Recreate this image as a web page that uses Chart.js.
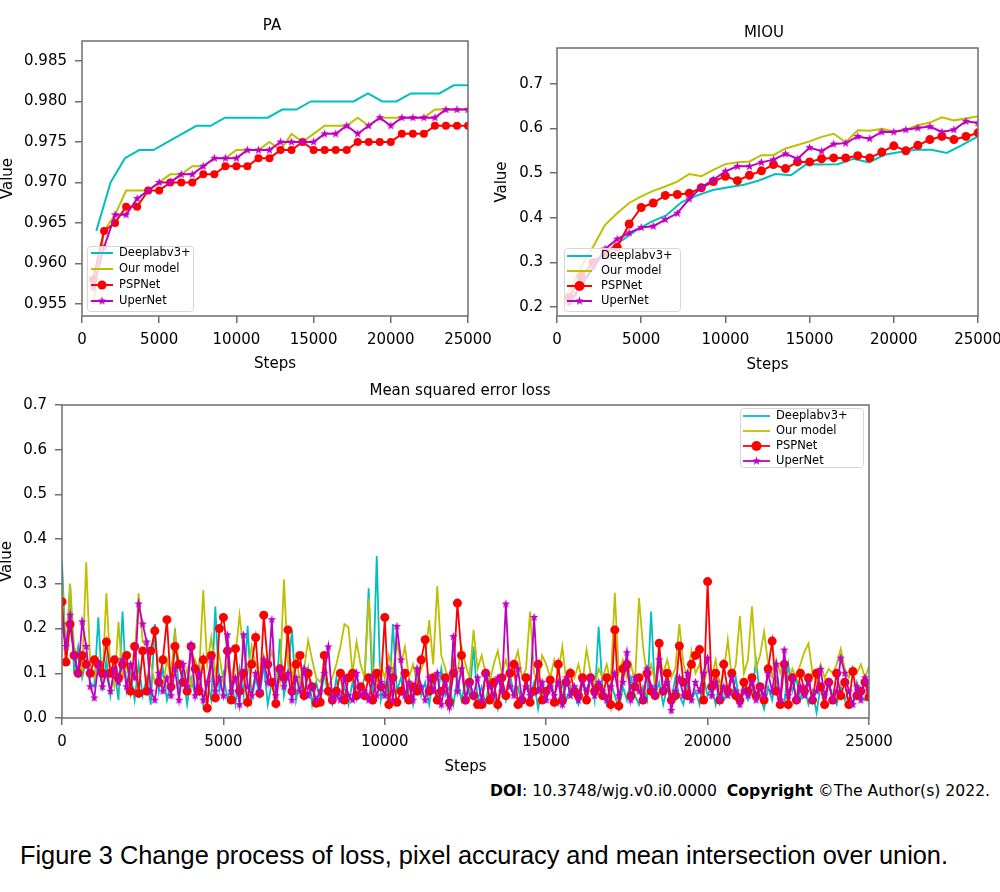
<!DOCTYPE html>
<html>
<head>
<meta charset="utf-8">
<title>Figure 3</title>
<script src="https://cdn.jsdelivr.net/npm/chart.js@4.4.0/dist/chart.umd.min.js"></script>
<style>
  body { margin: 0; width: 1000px; height: 892px; position: relative; overflow: hidden; background: #fff;
         font-family: "DejaVu Sans", sans-serif; color: #000; }
  canvas { position: absolute; }
  .ttl { position: absolute; white-space: nowrap; font-size: 15px; transform: translate(-50%, -50%); }
  #doi { position: absolute; left: 490px; top: 782px; white-space: nowrap; font: 15px "DejaVu Sans Condensed", sans-serif; transform-origin: left center; }
  #caption { position: absolute; left: 20px; top: 840px; white-space: nowrap; font: 26px "Liberation Sans", Arial, sans-serif; transform-origin: left center; }
</style>
</head>
<body>
<canvas id="paChart"   width="500"  height="380" style="left:0;top:0"></canvas>
<canvas id="miouChart" width="520"  height="380" style="left:490px;top:0"></canvas>
<canvas id="mseChart"  width="1000" height="400" style="left:0;top:380px"></canvas>

<div class="ttl" style="left:272px;top:25px">PA</div>
<div class="ttl" style="left:764px;top:32px">MIOU</div>
<div class="ttl" style="left:460px;top:390px">Mean squared error loss</div>
<div id="doi"><b>DOI</b>: 10.3748/wjg.v0.i0.0000&nbsp;&nbsp;<b>Copyright</b> ©The Author(s) 2022.</div>
<div id="caption">Figure 3 Change process of loss, pixel accuracy and mean intersection over union.</div>

<script>
'use strict';

// ── Data ─────────────────────────────────────────────────────
const SERIES_NAMES = ['Deeplabv3+', 'Our model', 'PSPNet', 'UperNet'];
const STEP_TICKS   = [0, 5000, 10000, 15000, 20000, 25000];

// evaluation steps (PSPNet / UperNet / Our model every ~714, Deeplabv3+ every ~926)
const EVAL_STEPS = [714, 1429, 2143, 2857, 3571, 4286, 5000, 5714, 6429, 7143, 7857, 8571,
  9286, 10000, 10714, 11429, 12143, 12857, 13571, 14286, 15000, 15714, 16429, 17143, 17857,
  18571, 19286, 20000, 20714, 21429, 22143, 22857, 23571, 24286, 25000];
const DEEPLAB_STEPS = [926, 1852, 2778, 3704, 4630, 5556, 6481, 7407, 8333, 9259, 10185,
  11111, 12037, 12963, 13889, 14815, 15741, 16667, 17593, 18519, 19444, 20370, 21296, 22222,
  23148, 24074, 25000];

// PA
const PA_YTICKS  = [0.955, 0.960, 0.965, 0.970, 0.975, 0.980, 0.985];
const PA_DEEPLAB = [0.964, 0.970, 0.973, 0.974, 0.974, 0.975, 0.976, 0.977, 0.977, 0.978,
  0.978, 0.978, 0.978, 0.979, 0.979, 0.980, 0.980, 0.980, 0.980, 0.981, 0.980, 0.980, 0.981,
  0.981, 0.981, 0.982, 0.982];
const PA_OURS = [0.955, 0.964, 0.966, 0.969, 0.969, 0.969, 0.970, 0.971, 0.971, 0.972, 0.972,
  0.973, 0.973, 0.974, 0.974, 0.974, 0.975, 0.974, 0.976, 0.975, 0.976, 0.977, 0.977, 0.977,
  0.978, 0.977, 0.978, 0.978, 0.978, 0.978, 0.978, 0.979, 0.979, 0.979, 0.979];
const PA_PSP = [0.958, 0.964, 0.965, 0.967, 0.967, 0.969, 0.969, 0.970, 0.970, 0.970, 0.971,
  0.971, 0.972, 0.972, 0.972, 0.973, 0.973, 0.974, 0.974, 0.975, 0.974, 0.974, 0.974, 0.974,
  0.975, 0.975, 0.975, 0.975, 0.976, 0.976, 0.976, 0.977, 0.977, 0.977, 0.977];
const PA_UPER = [0.957, 0.962, 0.966, 0.966, 0.968, 0.969, 0.970, 0.970, 0.971, 0.971, 0.972,
  0.973, 0.973, 0.973, 0.974, 0.974, 0.974, 0.975, 0.975, 0.975, 0.975, 0.976, 0.976, 0.977,
  0.976, 0.977, 0.978, 0.977, 0.978, 0.978, 0.978, 0.978, 0.979, 0.979, 0.979];

// MIOU
const MIOU_YTICKS  = [0.2, 0.3, 0.4, 0.5, 0.6, 0.7];
const MIOU_DEEPLAB = [0.215, 0.27, 0.32, 0.345, 0.37, 0.39, 0.405, 0.435, 0.45, 0.462, 0.468,
  0.474, 0.484, 0.498, 0.495, 0.52, 0.519, 0.52, 0.532, 0.524, 0.541, 0.547, 0.552, 0.552,
  0.545, 0.563, 0.582];
const MIOU_OURS = [0.235, 0.29, 0.335, 0.384, 0.41, 0.433, 0.448, 0.46, 0.47, 0.481, 0.498,
  0.493, 0.507, 0.52, 0.524, 0.526, 0.54, 0.54, 0.555, 0.563, 0.571, 0.581, 0.588, 0.569,
  0.596, 0.595, 0.599, 0.593, 0.597, 0.607, 0.613, 0.625, 0.618, 0.622, 0.627];
const MIOU_PSP = [0.222, 0.269, 0.30, 0.322, 0.334, 0.386, 0.423, 0.433, 0.45, 0.452, 0.455,
  0.467, 0.481, 0.493, 0.483, 0.495, 0.505, 0.519, 0.51, 0.525, 0.525, 0.532, 0.534, 0.534,
  0.539, 0.534, 0.547, 0.561, 0.55, 0.562, 0.575, 0.582, 0.575, 0.582, 0.59];
const MIOU_UPER = [0.209, 0.25, 0.29, 0.33, 0.352, 0.366, 0.378, 0.381, 0.396, 0.41, 0.442,
  0.468, 0.485, 0.504, 0.515, 0.515, 0.524, 0.53, 0.543, 0.532, 0.557, 0.549, 0.565, 0.567,
  0.582, 0.577, 0.592, 0.592, 0.597, 0.601, 0.604, 0.592, 0.597, 0.616, 0.612];

// MSE loss, logged every 125 steps (one row = 1000 steps)
const MSE_INTERVAL = 125;
const MSE_YTICKS   = [0, 0.1, 0.2, 0.3, 0.4, 0.5, 0.6, 0.7];
const MSE_DEEPLAB = [
  0.35, 0.13, 0.30, 0.10, 0.16, 0.09, 0.13, 0.08,
  0.07, 0.225, 0.06, 0.13, 0.05, 0.11, 0.04, 0.238,
  0.06, 0.10, 0.04, 0.12, 0.05, 0.09, 0.03, 0.21,
  0.06, 0.11, 0.04, 0.08, 0.20, 0.05, 0.10, 0.03,
  0.09, 0.05, 0.12, 0.03, 0.08, 0.04, 0.249, 0.06,
  0.10, 0.04, 0.08, 0.03, 0.11, 0.05, 0.206, 0.04,
  0.09, 0.05, 0.12, 0.03, 0.08, 0.04, 0.177, 0.05,
  0.10, 0.197, 0.04, 0.09, 0.05, 0.11, 0.03, 0.08,
  0.04, 0.10, 0.05, 0.03, 0.09, 0.04, 0.07, 0.03,
  0.08, 0.04, 0.06, 0.09, 0.29, 0.05, 0.362, 0.04,
  0.08, 0.03, 0.21, 0.06, 0.09, 0.04, 0.07, 0.03,
  0.10, 0.05, 0.08, 0.03, 0.09, 0.04, 0.11, 0.05,
  0.07, 0.03, 0.09, 0.04, 0.08, 0.05, 0.16, 0.04,
  0.07, 0.03, 0.09, 0.05, 0.02, 0.08, 0.04, 0.10,
  0.05, 0.07, 0.03, 0.09, 0.05, 0.08, 0.02, 0.07,
  0.04, 0.09, 0.05, 0.03, 0.08, 0.04, 0.07, 0.05,
  0.03, 0.08, 0.05, 0.10, 0.04, 0.204, 0.06, 0.03,
  0.08, 0.05, 0.02, 0.07, 0.04, 0.09, 0.05, 0.03,
  0.07, 0.04, 0.238, 0.05, 0.08, 0.03, 0.07, 0.04,
  0.09, 0.05, 0.03, 0.08, 0.04, 0.06, 0.03, 0.09,
  0.05, 0.07, 0.03, 0.08, 0.04, 0.06, 0.05, 0.09,
  0.03, 0.07, 0.04, 0.06, 0.128, 0.05, 0.02, 0.07,
  0.04, 0.09, 0.05, 0.03, 0.12, 0.06, 0.09, 0.04,
  0.07, 0.03, 0.06, 0.012, 0.07, 0.04, 0.08, 0.05,
  0.03, 0.07, 0.04, 0.06, 0.03, 0.08, 0.05, 0.04,
  0.07];
const MSE_OURS = [
  0.31, 0.12, 0.30, 0.16, 0.13, 0.10, 0.348, 0.12,
  0.09, 0.13, 0.08, 0.279, 0.11, 0.07, 0.215, 0.09,
  0.12, 0.08, 0.14, 0.279, 0.17, 0.16, 0.12, 0.08,
  0.10, 0.07, 0.13, 0.09, 0.19, 0.12, 0.08, 0.11,
  0.07, 0.13, 0.10, 0.286, 0.12, 0.18, 0.10, 0.14,
  0.08, 0.12, 0.09, 0.14, 0.23, 0.15, 0.10, 0.16,
  0.12, 0.09, 0.14, 0.11, 0.15, 0.10, 0.08, 0.31,
  0.12, 0.09, 0.14, 0.08, 0.11, 0.174, 0.13, 0.09,
  0.08, 0.11, 0.07, 0.09, 0.12, 0.16, 0.21, 0.203,
  0.10, 0.17, 0.12, 0.09, 0.267, 0.11, 0.08, 0.12,
  0.09, 0.14, 0.10, 0.17, 0.12, 0.159, 0.09, 0.12,
  0.08, 0.11, 0.13, 0.219, 0.12, 0.295, 0.14, 0.11,
  0.08, 0.13, 0.10, 0.16, 0.12, 0.09, 0.197, 0.11,
  0.14, 0.10, 0.08, 0.12, 0.15, 0.10, 0.13, 0.09,
  0.12, 0.15, 0.09, 0.11, 0.238, 0.10, 0.08, 0.14,
  0.12, 0.09, 0.13, 0.10, 0.16, 0.08, 0.11, 0.09,
  0.12, 0.08, 0.153, 0.10, 0.07, 0.11, 0.09, 0.12,
  0.08, 0.28, 0.10, 0.13, 0.09, 0.12, 0.08, 0.268,
  0.16, 0.09, 0.12, 0.08, 0.14, 0.10, 0.13, 0.09,
  0.11, 0.21, 0.12, 0.09, 0.15, 0.10, 0.12, 0.08,
  0.11, 0.09, 0.13, 0.07, 0.10, 0.175, 0.09, 0.12,
  0.228, 0.10, 0.13, 0.25, 0.11, 0.14, 0.193, 0.12,
  0.09, 0.13, 0.10, 0.134, 0.08, 0.11, 0.09, 0.12,
  0.148, 0.167, 0.10, 0.08, 0.12, 0.09, 0.11, 0.10,
  0.12, 0.155, 0.11, 0.09, 0.115, 0.10, 0.12, 0.09,
  0.115];
const MSE_PSP = [
  0.26, 0.125, 0.21, 0.14, 0.10, 0.14, 0.12, 0.10,
  0.13, 0.12, 0.10, 0.17, 0.10, 0.13, 0.09, 0.12,
  0.14, 0.06, 0.16, 0.055, 0.15, 0.06, 0.15, 0.195,
  0.08, 0.13, 0.22, 0.07, 0.16, 0.12, 0.08, 0.06,
  0.16, 0.11, 0.06, 0.13, 0.022, 0.14, 0.045, 0.20,
  0.225, 0.15, 0.04, 0.155, 0.06, 0.10, 0.035, 0.12,
  0.18, 0.055, 0.23, 0.12, 0.08, 0.032, 0.11, 0.09,
  0.197, 0.06, 0.12, 0.14, 0.05, 0.10, 0.07, 0.033,
  0.035, 0.14, 0.06, 0.04, 0.06, 0.10, 0.04, 0.09,
  0.10, 0.05, 0.07, 0.05, 0.09, 0.04, 0.10, 0.07,
  0.225, 0.03, 0.09, 0.035, 0.06, 0.10, 0.04, 0.07,
  0.06, 0.13, 0.175, 0.06, 0.09, 0.04, 0.06, 0.09,
  0.035, 0.10, 0.257, 0.14, 0.04, 0.08, 0.05, 0.03,
  0.03, 0.10, 0.04, 0.08, 0.03, 0.09, 0.05, 0.10,
  0.12, 0.03, 0.04, 0.09, 0.035, 0.06, 0.12, 0.04,
  0.06, 0.085, 0.035, 0.12, 0.04, 0.08, 0.10, 0.06,
  0.05, 0.09, 0.04, 0.09, 0.06, 0.07, 0.05, 0.09,
  0.03, 0.197, 0.027, 0.11, 0.12, 0.05, 0.07, 0.09,
  0.04, 0.10, 0.06, 0.05, 0.167, 0.06, 0.10, 0.04,
  0.05, 0.161, 0.08, 0.05, 0.12, 0.14, 0.153, 0.04,
  0.305, 0.07, 0.10, 0.04, 0.12, 0.06, 0.10, 0.05,
  0.04, 0.08, 0.06, 0.09, 0.05, 0.07, 0.04, 0.11,
  0.172, 0.06, 0.03, 0.12, 0.03, 0.09, 0.04, 0.10,
  0.06, 0.09, 0.04, 0.10, 0.07, 0.03, 0.08, 0.04,
  0.10, 0.05, 0.08, 0.03, 0.104, 0.05, 0.06, 0.08,
  0.047];
const MSE_UPER = [
  0.21, 0.16, 0.23, 0.14, 0.10, 0.215, 0.16, 0.07,
  0.045, 0.12, 0.07, 0.10, 0.06, 0.11, 0.08, 0.13,
  0.07, 0.12, 0.09, 0.255, 0.21, 0.17, 0.06, 0.04,
  0.10, 0.06, 0.09, 0.05, 0.11, 0.04, 0.12, 0.07,
  0.164, 0.05, 0.10, 0.04, 0.08, 0.13, 0.06, 0.09,
  0.05, 0.186, 0.06, 0.09, 0.03, 0.186, 0.07, 0.05,
  0.10, 0.06, 0.13, 0.08, 0.22, 0.05, 0.11, 0.07,
  0.10, 0.04, 0.09, 0.06, 0.11, 0.05, 0.07, 0.04,
  0.06, 0.10, 0.159, 0.04, 0.05, 0.04, 0.09, 0.05,
  0.04, 0.10, 0.05, 0.06, 0.04, 0.09, 0.05, 0.08,
  0.05, 0.11, 0.04, 0.205, 0.13, 0.05, 0.08, 0.04,
  0.11, 0.07, 0.04, 0.09, 0.06, 0.10, 0.03, 0.08,
  0.025, 0.182, 0.06, 0.11, 0.04, 0.08, 0.05, 0.09,
  0.04, 0.10, 0.07, 0.05, 0.09, 0.06, 0.255, 0.07,
  0.05, 0.11, 0.04, 0.07, 0.05, 0.225, 0.06, 0.08,
  0.04, 0.07, 0.05, 0.08, 0.03, 0.09, 0.05, 0.07,
  0.04, 0.08, 0.06, 0.09, 0.05, 0.08, 0.06, 0.04,
  0.07, 0.10, 0.05, 0.08, 0.146, 0.04, 0.09, 0.06,
  0.04, 0.11, 0.07, 0.05, 0.13, 0.06, 0.08, 0.017,
  0.06, 0.09, 0.05, 0.10, 0.04, 0.08, 0.06, 0.10,
  0.134, 0.05, 0.08, 0.04, 0.07, 0.05, 0.09, 0.06,
  0.03, 0.06, 0.05, 0.08, 0.04, 0.07, 0.05, 0.10,
  0.06, 0.12, 0.04, 0.152, 0.05, 0.09, 0.04, 0.07,
  0.05, 0.08, 0.04, 0.06, 0.109, 0.05, 0.08, 0.04,
  0.06, 0.134, 0.10, 0.06, 0.03, 0.07, 0.04, 0.09,
  0.06];

// ── Styling ──────────────────────────────────────────────────
const COLORS     = ['#00bfbf', '#bfbf00', '#ff0000', '#bf00bf'];
const AXIS_COLOR = '#6e6e6e';
const FONT       = 'DejaVu Sans';

// matplotlib-like filled star marker
function starMarker(color, r) {
  const c = document.createElement('canvas');
  c.width = c.height = Math.ceil(r * 2) + 2;
  const ctx = c.getContext('2d');
  const cx = c.width / 2, cy = c.height / 2;
  ctx.beginPath();
  for (let i = 0; i < 10; i++) {
    const rr = i % 2 ? r * 0.42 : r;
    const a = -Math.PI / 2 + i * Math.PI / 5;
    ctx.lineTo(cx + rr * Math.cos(a), cy + rr * Math.sin(a));
  }
  ctx.closePath();
  ctx.fillStyle = color;
  ctx.fill();
  return c;
}

const toPoints = (xs, ys) => ys.map((y, i) => ({ x: xs[i], y }));

function makeDatasets(series, opts) {
  const star = starMarker(COLORS[3], opts.star);
  return series.map((pts, i) => ({
    label: SERIES_NAMES[i],
    data: pts,
    borderColor: COLORS[i],
    backgroundColor: COLORS[i],
    borderWidth: opts.width,
    tension: 0,
    fill: false,
    order: 4 - i,
    pointRadius: i === 2 ? opts.dot : (i === 3 ? 3 : 0),
    pointStyle: i === 3 ? star : 'circle',
    pointBorderWidth: 0,
    pointBackgroundColor: COLORS[i],
  }));
}

// ── Plugins: frame box + legend inside the plot ──────────────
const framePlugin = {
  id: 'frame',
  afterDatasetsDraw(chart) {
    const { ctx, chartArea: a } = chart;
    ctx.save();
    ctx.strokeStyle = AXIS_COLOR;
    ctx.lineWidth = 1.5;
    ctx.strokeRect(a.left, a.top, a.right - a.left, a.bottom - a.top);
    ctx.restore();
  }
};

const boxLegendPlugin = {
  id: 'boxLegend',
  afterDatasetsDraw(chart, args, o) {
    const ctx = chart.ctx;
    ctx.save();
    ctx.beginPath();
    ctx.roundRect(o.x + 0.5, o.y + 0.5, o.w, o.h, 3);
    ctx.fillStyle = 'rgba(255,255,255,0.8)';
    ctx.fill();
    ctx.strokeStyle = '#d6d6d6';
    ctx.lineWidth = 1;
    ctx.stroke();
    ctx.font = `11.5px "${FONT}"`;
    ctx.textBaseline = 'middle';
    chart.data.datasets.forEach((ds, i) => {
      const y = o.row0 + i * o.gap;
      ctx.strokeStyle = ds.borderColor;
      ctx.lineWidth = ds.borderWidth;
      ctx.beginPath();
      ctx.moveTo(o.line0, y);
      ctx.lineTo(o.line1, y);
      ctx.stroke();
      const mx = (o.line0 + o.line1) / 2;
      if (ds.pointStyle instanceof HTMLCanvasElement) {
        ctx.drawImage(ds.pointStyle, mx - ds.pointStyle.width / 2, y - ds.pointStyle.height / 2);
      } else if (ds.pointRadius > 0) {
        ctx.fillStyle = ds.borderColor;
        ctx.beginPath();
        ctx.arc(mx, y, ds.pointRadius + 0.5, 0, Math.PI * 2);
        ctx.fill();
      }
      ctx.fillStyle = '#000';
      ctx.fillText(ds.label, o.text, y);
    });
    ctx.restore();
  }
};

// ── Chart factory ───────────────────────────────────────────
function lineChart(id, cfg) {
  return new Chart(document.getElementById(id), {
    type: 'line',
    data: { datasets: cfg.datasets },
    options: {
      responsive: false,
      animation: false,
      devicePixelRatio: 1,
      layout: { padding: cfg.padding },
      scales: {
        x: {
          type: 'linear', min: 0, max: 25000,
          afterBuildTicks: axis => { axis.ticks = STEP_TICKS.map(v => ({ value: v })); },
          afterFit: s => { s.height = cfg.xHeight; },
          ticks: { font: { family: FONT, size: 15 }, color: '#000', padding: 8, maxRotation: 0,
                   callback: v => String(v) },
          grid: { drawOnChartArea: false, drawTicks: true, tickLength: 7, color: AXIS_COLOR, lineWidth: 1.5 },
          border: { display: false },
          title: { display: true, text: 'Steps', color: '#000', font: { family: FONT, size: 15 },
                   padding: { top: 0, bottom: cfg.stepsPad } },
        },
        y: {
          type: 'linear', min: cfg.yMin, max: cfg.yMax,
          afterBuildTicks: axis => { axis.ticks = cfg.yTicks.map(v => ({ value: v })); },
          afterFit: s => { s.width = cfg.yWidth; },
          ticks: { font: { family: FONT, size: 15 }, color: '#000', padding: cfg.yPad,
                   callback: v => v.toFixed(cfg.decimals) },
          grid: { drawOnChartArea: false, drawTicks: true, tickLength: 7, color: AXIS_COLOR, lineWidth: 1.5 },
          border: { display: false },
          title: { display: true, text: 'Value', color: '#000', font: { family: FONT, size: 15 },
                   padding: { top: cfg.valuePad, bottom: 0 } },
        },
      },
      plugins: {
        legend: { display: false },
        tooltip: { enabled: false },
        boxLegend: cfg.legend,
      },
    },
    plugins: [framePlugin, boxLegendPlugin],
  });
}

// ── PA ──────────────────────────────────────────────────────
lineChart('paChart', {
  datasets: makeDatasets([
    toPoints(DEEPLAB_STEPS, PA_DEEPLAB),
    toPoints(EVAL_STEPS, PA_OURS),
    toPoints(EVAL_STEPS, PA_PSP),
    toPoints(EVAL_STEPS, PA_UPER),
  ], { width: 2, dot: 4, star: 4.5 }),
  padding: { top: 41, right: 32, left: 0, bottom: 0 },
  xHeight: 64, yWidth: 82, yPad: 8, stepsPad: 7, valuePad: -1,
  yMin: 0.9535, yMax: 0.98747, yTicks: PA_YTICKS, decimals: 3,
  legend: { x: 87, y: 246, w: 106, h: 65, row0: 253, gap: 16, line0: 91, line1: 113, text: 119 },
});

// ── MIOU ────────────────────────────────────────────────────
lineChart('miouChart', {
  datasets: makeDatasets([
    toPoints(DEEPLAB_STEPS, MIOU_DEEPLAB),
    toPoints(EVAL_STEPS, MIOU_OURS),
    toPoints(EVAL_STEPS, MIOU_PSP),
    toPoints(EVAL_STEPS, MIOU_UPER),
  ], { width: 2, dot: 4.5, star: 4.5 }),
  padding: { top: 48, right: 32, left: 0, bottom: 0 },
  xHeight: 64, yWidth: 67, yPad: 7, stepsPad: 6, valuePad: 3,
  yMin: 0.18, yMax: 0.78, yTicks: MIOU_YTICKS, decimals: 1,
  legend: { x: 74, y: 248, w: 116, h: 63, row0: 256, gap: 15, line0: 77, line1: 102, text: 111 },
});

// ── MSE loss ────────────────────────────────────────────────
const MSE_STEPS = MSE_DEEPLAB.map((_, i) => i * MSE_INTERVAL);
lineChart('mseChart', {
  datasets: makeDatasets([
    toPoints(MSE_STEPS, MSE_DEEPLAB),
    toPoints(MSE_STEPS, MSE_OURS),
    toPoints(MSE_STEPS, MSE_PSP),
    toPoints(MSE_STEPS, MSE_UPER),
  ], { width: 1.8, dot: 4.5, star: 4.5 }),
  padding: { top: 25, right: 131, left: 0, bottom: 0 },
  xHeight: 62, yWidth: 62, yPad: 8, stepsPad: 4, valuePad: -2,
  yMin: 0, yMax: 0.7, yTicks: MSE_YTICKS, decimals: 1,
  legend: { x: 740, y: 28, w: 123, h: 59, row0: 36, gap: 15, line0: 743, line1: 770, text: 776 },
});

// ── Fit footer texts to the reference widths ────────────────
function fitWidth(id, width) {
  const el = document.getElementById(id);
  const w = el.getBoundingClientRect().width;
  el.style.transform = `scaleX(${width / w})`;
}
fitWidth('doi', 500);
fitWidth('caption', 928);
</script>
</body>
</html>
